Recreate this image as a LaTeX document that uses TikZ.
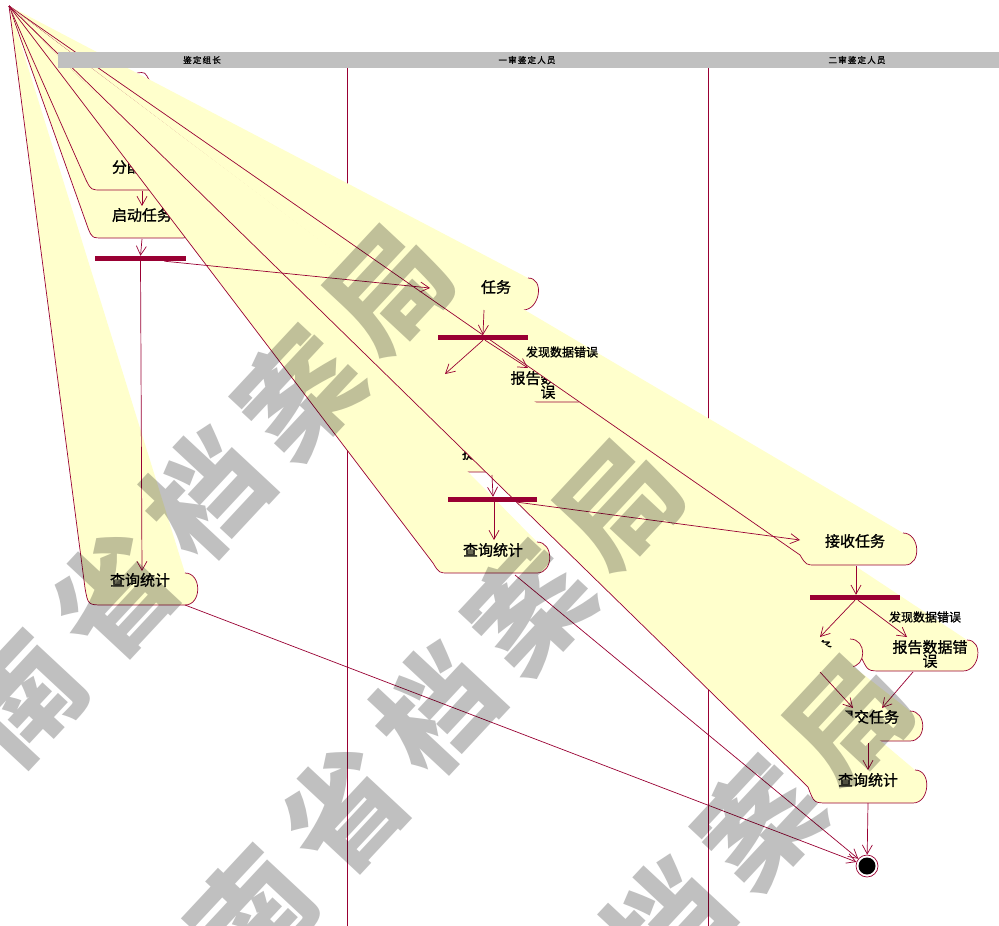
\documentclass[tikz,border=0pt]{standalone}
\usepackage{fontspec}
\usepackage{xcolor}
\usetikzlibrary{arrows.meta}

\newfontfamily\cnfont[FakeBold=1.2]{Noto Sans CJK SC}
\newfontfamily\wmfont{Noto Sans CJK SC}

\definecolor{rosered}{HTML}{990033}
\definecolor{statefill}{HTML}{FFFFCC}
\definecolor{lanegray}{HTML}{C0C0C0}

% action state whose top-left corner got pulled up to the apex
\newcommand{\pulledstate}[5]{%
  \fill[stfill] (apex) -- (#1) .. controls (#2) .. (#3) -- (#4)
    .. controls +(17,0) and +(17,0) .. (#5) -- cycle;
  \draw[stline] (apex) -- (#1) .. controls (#2) .. (#3) -- (#4)
    .. controls +(17,0) and +(17,0) .. (#5);
}

\begin{document}
\begin{tikzpicture}[x=1pt,y=-1pt,
  stfill/.style={fill=statefill},
  stline/.style={draw=rosered,line width=0.7pt},
  lane/.style={draw=rosered,line width=0.6pt},
  flow/.style={draw=rosered,line width=0.7pt,-{Straight Barb[length=9pt,width=10pt]}},
  syncbar/.style={fill=rosered,inner sep=0pt,minimum height=5pt},
  sttext/.style={font=\cnfont\fontsize{15}{14}\selectfont,align=center,inner sep=0pt},
  guard/.style={font=\cnfont\fontsize{12}{13}\selectfont,inner sep=0pt},
  lanehead/.style={font=\cnfont\fontsize{8.5}{9}\selectfont\addfontfeature{LetterSpace=14},inner sep=0pt},
  wmark/.style={font=\wmfont\bfseries\fontsize{118}{118}\selectfont,text=lanegray,inner sep=0pt,rotate=47}]

\useasboundingbox (0,0) rectangle (999,926);
\fill[white] (0,0) rectangle (999,926);

\coordinate (apex) at (9,6);

% Swimlane borders
\draw[lane] (347,68) -- (347,926);
\draw[lane] (708,68) -- (708,926);

% States, lane 1
\pulledstate{88,228}{92,238}{104,238}{183,238}{183,192}
\node[sttext] (qidong) at (142,215) {启动任务};
\pulledstate{86,180}{91,190}{102,190}{178,190}{178,145}
\node[sttext] (fenpei) at (142,167) {分配任务};
\pulledstate{85,588}{88,605}{104,605}{185,605}{185,573}
\node[sttext] (chaxun1) at (140,580) {查询统计};
\draw[stline] (137,73) .. controls (145,72) .. (149,80);

% States, lane 2
\pulledstate{408,410}{414,420}{424,420}{490,420}{490,378}
\node[sttext] (jianding2) at (455,398) {鉴定任务};
\pulledstate{453,462}{459,472}{469,472}{535,472}{535,432}
\node[sttext] (tijiao2) at (492,453) {提交任务};
\pulledstate{433,563}{439,573}{449,573}{537,573}{537,542}
\node[sttext] (chaxun2) at (493,550) {查询统计};
\pulledstate{432,302}{438,310}{448,310}{523,310}{528,278}

% States, lane 3 (and the error report of lane 2)
\pulledstate{862,659}{868,671}{882,671}{963,671}{967,640}
\node[sttext] (baogao3) at (930,654) {报告数据错\\误};
\pulledstate{524,396}{529,402}{539,402}{578,402}{578,362}
\node[sttext] (baogao2) at (548,385) {报告数据错\\误};
\pulledstate{800,555}{806,565}{816,565}{905,565}{903,533}
\node[sttext] (jieshou3) at (855,541) {接收任务};
\pulledstate{765,657}{771,667}{781,667}{850,667}{850,639}
\node[sttext] (jianding3) at (802,647) {鉴定任务};
\pulledstate{815,731}{821,741}{831,741}{910,741}{910,711}
\node[sttext] (tijiao3) at (869,717) {提交任务};
\pulledstate{808,787}{814,803}{828,803}{913,803}{915,770}
\node[sttext] (chaxun3) at (868,780) {查询统计};

\node[sttext] (jieshou2) at (496,287) {任务};

% Synchronisation bars
\node[syncbar,minimum width=91pt] (bar1) at (140.5,258.5) {};
\node[syncbar,minimum width=90pt] (bar2) at (483,337.5) {};
\node[syncbar,minimum width=89pt] (bar3) at (492.5,499.5) {};
\node[syncbar,minimum width=90pt] (bar4) at (855,597.5) {};

% Final state
\node[circle,draw=rosered,line width=0.7pt,fill=white,minimum size=22pt,inner sep=0pt] (final) at (867,866) {};
\fill[black] (final.center) circle (8.5);

% Connector ends
\coordinate (fenpei-out) at (142,191);
\coordinate (qidong-in) at (142,206);
\coordinate (qidong-out) at (142,239);
\coordinate (chaxun1-in) at (142,571);
\coordinate (chaxun1-out) at (185,605);
\coordinate (jieshou2-in) at (430,288);
\coordinate (jieshou2-out) at (484,310);
\coordinate (jianding2-in) at (445,374);
\coordinate (baogao2-in) at (528,368);
\coordinate (tijiao2-out) at (492,475);
\coordinate (chaxun2-in) at (494,540);
\coordinate (chaxun2-out) at (515,575);
\coordinate (jieshou3-in) at (800,540);
\coordinate (jieshou3-out) at (856,566);
\coordinate (jianding3-in) at (820,637);
\coordinate (jianding3-out) at (820,672);
\coordinate (baogao3-in) at (907,637);
\coordinate (baogao3-out) at (913,672);
\coordinate (tijiao3-in1) at (853,708);
\coordinate (tijiao3-in2) at (882,708);
\coordinate (tijiao3-out) at (868,743);
\coordinate (chaxun3-in) at (868,770);
\coordinate (chaxun3-out) at (868,803);

% Transitions
\draw[flow] (fenpei-out) -- (qidong-in);
\draw[flow] (qidong-out) -- (bar1.north);
\draw[flow] (bar1.south) -- (chaxun1-in);
\draw[flow] ([xshift=24pt]bar1.south) -- (jieshou2-in);
\draw[flow] (jieshou2-out) -- (bar2.north);
\draw[flow] (bar2.south) -- (jianding2-in);
\draw[flow] ([xshift=2pt]bar2.south) -- (baogao2-in);
\node[guard] (err2) at (562,352) {发现数据错误};
\draw[flow] (tijiao2-out) -- ([xshift=0.5pt]bar3.north);
\draw[flow] ([xshift=1.5pt]bar3.south) -- (chaxun2-in);
\draw[flow] ([xshift=25pt]bar3.south) -- (jieshou3-in);
\draw[flow] (jieshou3-out) -- ([xshift=1pt]bar4.north);
\draw[flow] (bar4.south) -- (jianding3-in);
\draw[flow] ([xshift=3pt]bar4.south) -- (baogao3-in);
\node[guard] (err3) at (925,617) {发现数据错误};
\draw[flow] (jianding3-out) -- (tijiao3-in1);
\draw[flow] (baogao3-out) -- (tijiao3-in2);
\draw[flow] (tijiao3-out) -- (chaxun3-in);
\draw[flow] (chaxun3-out) -- (final);
\draw[flow] (chaxun1-out) -- (final);
\draw[flow] (chaxun2-out) -- (final);

% Swimlane header
\fill[lanegray] (58,52) rectangle (999,68);
\node[lanehead] (lane1) at (202,60) {鉴定组长};
\node[lanehead] (lane2) at (527,60) {一审鉴定人员};
\node[lanehead] (lane3) at (857,60) {二审鉴定人员};

% Watermark
\begin{scope}[blend mode=multiply]
\foreach \row in {0,1,2}
  \foreach \ch [count=\i] in {河,南,省,档,案,局}
    \node[wmark] at ({390+\row*230-(6-\i)*92},{290+\row*215+(6-\i)*102}) {\ch};
\end{scope}

\end{tikzpicture}
\end{document}
